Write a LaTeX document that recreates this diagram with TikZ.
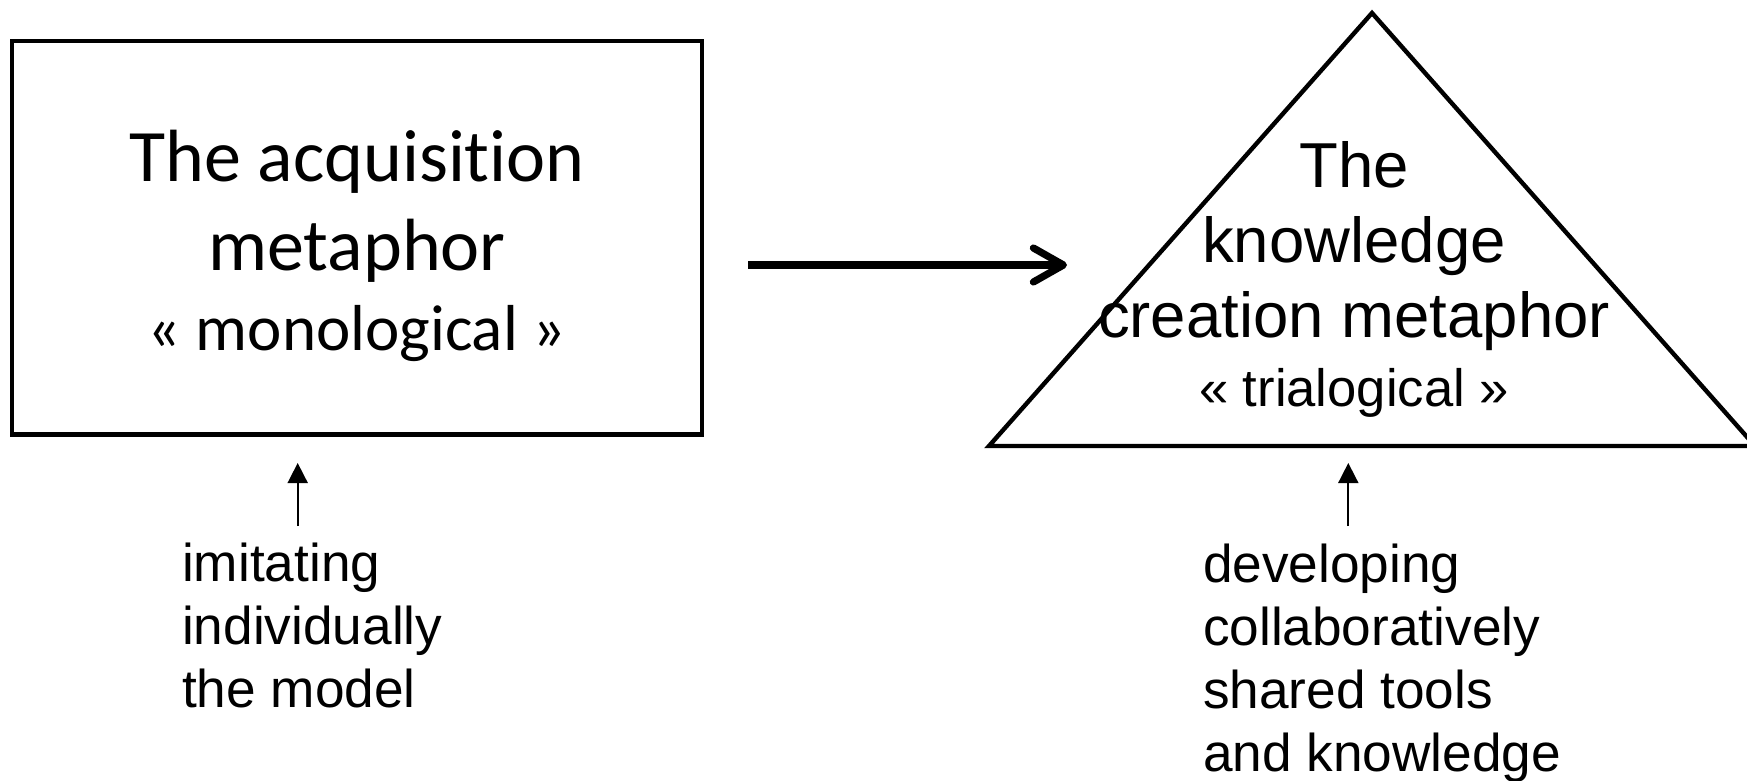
\documentclass[tikz,border=0pt]{standalone}
\usepackage{fontspec}
\setmainfont{Liberation Sans}
\newfontfamily\calib[Ligatures=NoCommon]{Carlito}
\usetikzlibrary{arrows.meta}
\begin{document}
\begin{tikzpicture}[x=0.5pt,y=-0.5pt,
  outline/.style={draw, line width=2.2pt},
  bigarrow/.style={line width=3.6pt, -{Straight Barb[length=15pt,width=17pt,round]}},
  smallarrow/.style={line width=0.85pt, -{Triangle[length=10pt,width=10pt]}},
  labeltext/.style={font=\fontsize{26.6}{31.5}\selectfont, align=left, inner sep=0pt, anchor=north west}]
\useasboundingbox (0,0) rectangle (1747,781);
% acquisition box
\node[outline, minimum width=345pt, minimum height=196.75pt, inner sep=0pt] (acq) at (357,237.75) {};
\node[font=\calib\fontsize{37}{44.5}\selectfont, align=center, inner sep=0pt] (acqtext) at (357,246)
  {The acquisition\\metaphor\\[-4.5pt]{\fontsize{32.5}{40}\selectfont « monological »}};
% knowledge creation triangle
\coordinate (apex) at (1372,13);
\coordinate (bl) at (989,446);
\coordinate (br) at (1755,446);
\draw[outline, line join=miter] (apex) -- (bl) -- (br) -- cycle;
\node[font=\fontsize{31.75}{37.7}\selectfont, align=center, inner sep=0pt] (kctext) at (1354,279.5)
  {The\\knowledge\\creation metaphor\\[-3.2pt]{\fontsize{26.3}{30}\selectfont « trialogical »}};
% big arrow
\coordinate (bigs) at (748,265);
\coordinate (bige) at (1067,265);
\draw[bigarrow] (bigs) -- (bige);
% bottom labels
\node[labeltext] (imit) at (181.7,543) {imitating\\individually\\the model};
\node[labeltext] (dev) at (1202.6,543.7) {developing\\collaboratively\\shared tools\\and knowledge};
% small arrows
\coordinate (a1s) at (297.7,526);
\coordinate (a1e) at (297.7,463);
\draw[smallarrow] (a1s) -- (a1e);
\coordinate (a2s) at (1348.3,526);
\coordinate (a2e) at (1348.3,463);
\draw[smallarrow] (a2s) -- (a2e);
\end{tikzpicture}
\end{document}
